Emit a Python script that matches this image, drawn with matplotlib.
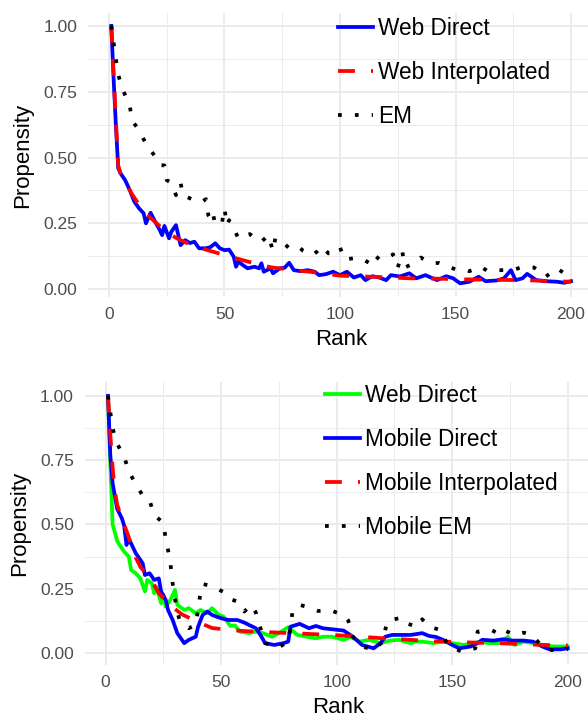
import matplotlib
matplotlib.use("Agg")
import matplotlib.pyplot as plt
from matplotlib.ticker import MultipleLocator, FixedLocator

plt.rcParams['font.family'] = ['Liberation Sans', 'DejaVu Sans']

# ---------------- data ----------------
# top panel
web_direct_rank = [1, 2, 3, 4, 5, 7, 9, 11, 13, 15, 16, 18, 20, 22, 23, 24, 26, 27, 29, 31,
                   33, 35, 37, 39, 42, 44, 46, 48, 50, 52, 54, 55, 56, 58, 60, 63, 65, 66, 67, 70,
                   71, 74, 76, 78, 80, 83, 86, 89, 91, 94, 97, 100, 103, 106, 109, 111, 114, 117, 120, 122,
                   126, 130, 133, 137, 142, 146, 149, 152, 156, 160, 163, 168, 171, 174, 176, 179, 181, 185, 189, 194,
                   197, 200]
web_direct_val = [1.0, 0.80, 0.62, 0.46, 0.44, 0.414, 0.376, 0.332, 0.307, 0.288, 0.25, 0.29, 0.256, 0.224, 0.205, 0.24, 0.193, 0.218, 0.243, 0.167,
                  0.186, 0.175, 0.18, 0.155, 0.155, 0.16, 0.174, 0.155, 0.148, 0.15, 0.123, 0.085, 0.104, 0.091, 0.079, 0.085, 0.079, 0.098, 0.066, 0.079,
                  0.06, 0.079, 0.081, 0.10, 0.072, 0.068, 0.072, 0.066, 0.053, 0.057, 0.066, 0.053, 0.066, 0.044, 0.053, 0.034, 0.049, 0.044, 0.034, 0.053,
                  0.048, 0.06, 0.041, 0.053, 0.034, 0.049, 0.041, 0.022, 0.028, 0.047, 0.03, 0.033, 0.041, 0.072, 0.034, 0.041, 0.058, 0.034, 0.03, 0.028,
                  0.024, 0.03]

web_interp_rank = [1, 2, 3, 4, 5, 10, 15, 20, 25, 30, 35, 40, 45, 50, 55, 60, 65, 70, 80, 90,
                   100, 110, 120, 130, 140, 150, 160, 170, 180, 190, 200]
web_interp_val = [1.0, 0.82, 0.64, 0.47, 0.44, 0.36, 0.295, 0.255, 0.215, 0.19, 0.17, 0.155, 0.142, 0.13, 0.117, 0.105, 0.093, 0.083, 0.072, 0.063,
                  0.051, 0.048, 0.045, 0.041, 0.04, 0.038, 0.036, 0.035, 0.034, 0.031, 0.028]

em_rank = [1, 2, 3, 4, 6, 9, 10, 13, 15, 17, 20, 22, 24, 25, 27, 29, 31, 32, 35, 40,
           42, 43, 44, 45, 46, 49, 50, 51, 52, 54, 56, 57, 61, 63, 66, 69, 71, 72, 74, 78,
           82, 84, 88, 90, 92, 95, 97, 100, 102, 106, 109, 113, 115, 117, 119, 121, 123, 125, 127, 128,
           132, 135, 138, 140, 143, 147, 150, 154, 156, 161, 164, 168, 171, 175, 179, 184, 187, 189, 192, 194,
           197, 200]
em_val = [1.0, 0.937, 0.873, 0.814, 0.757, 0.697, 0.639, 0.605, 0.569, 0.541, 0.503, 0.471, 0.47, 0.414, 0.404, 0.357, 0.404, 0.357, 0.345, 0.33,
          0.342, 0.281, 0.265, 0.288, 0.243, 0.256, 0.307, 0.243, 0.262, 0.231, 0.193, 0.2, 0.209, 0.193, 0.18, 0.205, 0.144, 0.193, 0.189, 0.155,
          0.161, 0.146, 0.129, 0.142, 0.163, 0.136, 0.136, 0.158, 0.113, 0.117, 0.117, 0.098, 0.129, 0.113, 0.12, 0.122, 0.132, 0.081, 0.142, 0.082,
          0.098, 0.12, 0.104, 0.099, 0.099, 0.085, 0.075, 0.075, 0.068, 0.085, 0.068, 0.072, 0.072, 0.072, 0.085, 0.082, 0.063, 0.047, 0.066, 0.079,
          0.06, 0.068]

# bottom panel
web2_rank = [1, 2, 3, 5, 6, 8, 10, 11, 13, 15, 17, 18, 20, 21, 22, 24, 25, 26, 28, 30,
             31, 34, 36, 39, 41, 44, 46, 49, 51, 54, 56, 58, 62, 65, 68, 72, 75, 79, 83, 87,
             91, 94, 98, 103, 106, 110, 114, 119, 123, 127, 132, 134, 137, 142, 146, 150, 155, 159, 162, 166,
             171, 174, 177, 181, 185, 189, 194, 198, 200]
web2_val = [1.0, 0.738, 0.50, 0.435, 0.42, 0.394, 0.375, 0.323, 0.31, 0.29, 0.239, 0.284, 0.271, 0.232, 0.258, 0.193, 0.226, 0.18, 0.206, 0.245,
            0.187, 0.167, 0.174, 0.154, 0.167, 0.154, 0.174, 0.148, 0.141, 0.105, 0.107, 0.083, 0.077, 0.083, 0.077, 0.063, 0.077, 0.10, 0.07, 0.063,
            0.057, 0.063, 0.063, 0.051, 0.063, 0.044, 0.051, 0.038, 0.048, 0.051, 0.038, 0.044, 0.044, 0.038, 0.044, 0.038, 0.031, 0.038, 0.044, 0.038,
            0.038, 0.063, 0.031, 0.044, 0.038, 0.031, 0.025, 0.025, 0.025]

mob_direct_rank = [1, 2, 3, 5, 7, 8, 9, 10, 13, 16, 17, 19, 21, 23, 24, 26, 27, 29, 31, 34,
                   36, 39, 40, 42, 44, 46, 48, 50, 53, 57, 60, 62, 65, 67, 69, 73, 77, 79, 80, 84,
                   88, 91, 94, 98, 103, 107, 111, 116, 119, 121, 124, 128, 132, 135, 137, 140, 143, 146, 150, 153,
                   158, 161, 163, 168, 172, 176, 181, 185, 189, 192, 197, 200]
mob_direct_val = [1.0, 0.77, 0.66, 0.56, 0.524, 0.495, 0.42, 0.445, 0.388, 0.349, 0.303, 0.31, 0.284, 0.29, 0.239, 0.206, 0.167, 0.128, 0.077, 0.038,
                  0.051, 0.063, 0.102, 0.148, 0.161, 0.148, 0.141, 0.135, 0.128, 0.128, 0.118, 0.109, 0.096, 0.07, 0.038, 0.031, 0.038, 0.044, 0.102, 0.113,
                  0.096, 0.105, 0.096, 0.092, 0.087, 0.063, 0.031, 0.018, 0.038, 0.063, 0.07, 0.07, 0.07, 0.074, 0.077, 0.066, 0.062, 0.051, 0.031, 0.018,
                  0.025, 0.038, 0.051, 0.048, 0.053, 0.048, 0.048, 0.044, 0.025, 0.014, 0.014, 0.018]

mob_interp_rank = [1, 2, 3, 4, 5, 8, 10, 12, 15, 20, 23, 28, 33, 40, 46, 54, 60, 70, 80, 90,
                   100, 110, 120, 130, 140, 150, 160, 170, 180, 190, 200]
mob_interp_val = [1.0, 0.85, 0.72, 0.63, 0.575, 0.5, 0.45, 0.39, 0.335, 0.28, 0.232, 0.185, 0.15, 0.12, 0.097, 0.089, 0.085, 0.081, 0.077, 0.073,
                  0.069, 0.063, 0.057, 0.052, 0.046, 0.043, 0.04, 0.038, 0.034, 0.031, 0.029]

mob_em_rank = [1, 2, 3, 5, 8, 10, 13, 16, 19, 21, 25, 26, 27, 28, 29, 30, 31, 32, 36, 39,
               40, 41, 42, 45, 47, 52, 54, 57, 60, 63, 65, 67, 69, 75, 79, 81, 84, 89, 92, 97,
               100, 103, 105, 107, 111, 116, 120, 121, 122, 125, 128, 130, 135, 137, 140, 145, 148, 154, 160, 161,
               167, 171, 173, 177, 181, 185, 188, 192, 198, 200]
mob_em_val = [1.0, 0.937, 0.874, 0.813, 0.764, 0.706, 0.658, 0.612, 0.593, 0.537, 0.505, 0.442, 0.40, 0.35, 0.27, 0.21, 0.16, 0.128, 0.096, 0.109,
              0.167, 0.232, 0.268, 0.262, 0.256, 0.232, 0.209, 0.2, 0.161, 0.187, 0.157, 0.096, 0.038, 0.022, 0.044, 0.167, 0.187, 0.174, 0.163, 0.167,
              0.157, 0.148, 0.126, 0.063, 0.025, 0.012, 0.044, 0.089, 0.124, 0.131, 0.137, 0.115, 0.102, 0.131, 0.102, 0.089, 0.031, 0.005, 0.018, 0.083,
              0.089, 0.07, 0.086, 0.07, 0.079, 0.066, 0.034, 0.012, 0.009, 0.015]

x_ticks = [0, 50, 100, 150, 200]
y_ticks = [0.0, 0.25, 0.5, 0.75, 1.0]
y_ticklabels = ['0.00', '0.25', '0.50', '0.75', '1.00']

# ---------------- style ----------------
BLUE, RED, GREEN, BLACK = '#0000FF', '#FF0000', '#00FF00', '#000000'
LW = 2.7
DASHED = (0, (4.5, 4.3))
DOTTED = (0, (1, 3.5))
W, H = 588, 719


def style_axes(ax, ylim):
    ax.set_xlim(-8.95, 209.95)
    ax.set_ylim(*ylim)
    ax.set_facecolor('none')
    for s in ax.spines.values():
        s.set_visible(False)
    ax.xaxis.set_major_locator(FixedLocator(x_ticks))
    ax.xaxis.set_minor_locator(MultipleLocator(25))
    ax.yaxis.set_major_locator(FixedLocator(y_ticks))
    ax.set_yticklabels(y_ticklabels)
    ax.yaxis.set_minor_locator(MultipleLocator(0.125))
    ax.grid(which='major', color='#EBEBEB', linewidth=1.4)
    ax.grid(which='minor', color='#EBEBEB', linewidth=0.7)
    ax.set_axisbelow(True)
    ax.tick_params(which='both', length=0, labelsize=12.5, labelcolor='#4D4D4D')
    ax.tick_params(axis='y', pad=8)
    ax.tick_params(axis='x', pad=7)
    ax.set_xlabel('Rank', fontsize=16, labelpad=5)
    ax.set_ylabel('Propensity', fontsize=16, labelpad=7)


def ax_rect(left_px, right_px, top_px, bottom_px):
    return [left_px / W, 1 - bottom_px / H, (right_px - left_px) / W, (bottom_px - top_px) / H]


def add_legend(ax, left_px, top_px):
    ax.legend(loc='upper left', bbox_to_anchor=(left_px / W, 1 - top_px / H),
              bbox_transform=fig.transFigure, frameon=False, fontsize=16.3,
              handlelength=1.55, handletextpad=0.22, labelspacing=0.93,
              borderpad=0, borderaxespad=0)


fig = plt.figure(figsize=(W / 100, H / 100), dpi=100, facecolor='white')

# --- top panel ---
ax1 = fig.add_axes(ax_rect(88.3, 594.0, 13, 297))
ax1.plot(web_direct_rank, web_direct_val, color=BLUE, lw=LW, label='Web Direct')
ax1.plot(web_interp_rank, web_interp_val, color=RED, lw=LW, linestyle=DASHED, label='Web Interpolated')
ax1.plot(em_rank, em_val, color=BLACK, lw=LW, linestyle=DOTTED, label='EM')
style_axes(ax1, (-0.030, 1.049))
add_legend(ax1, 338, 17)

# --- bottom panel ---
ax2 = fig.add_axes(ax_rect(85.0, 590.7, 382, 665))
ax2.plot(web2_rank, web2_val, color=GREEN, lw=LW, label='Web Direct')
ax2.plot(mob_direct_rank, mob_direct_val, color=BLUE, lw=LW, label='Mobile Direct')
ax2.plot(mob_interp_rank, mob_interp_val, color=RED, lw=LW, linestyle=DASHED, label='Mobile Interpolated')
ax2.plot(mob_em_rank, mob_em_val, color=BLACK, lw=LW, linestyle=DOTTED, label='Mobile EM')
style_axes(ax2, (-0.047, 1.054))
add_legend(ax2, 325, 384)

fig.savefig('out.png', dpi=100)
